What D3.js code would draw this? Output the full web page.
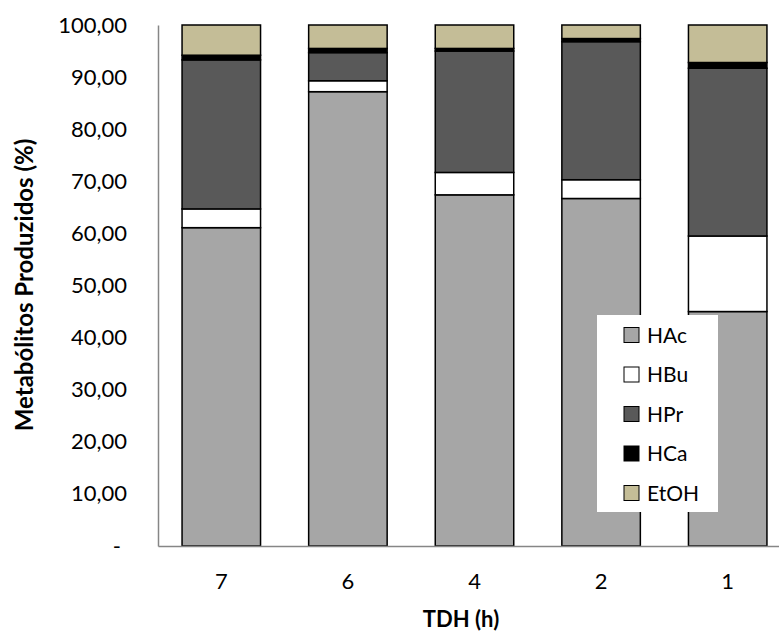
<!DOCTYPE html>
<html>
<head>
<meta charset="utf-8">
<script src="https://cdn.jsdelivr.net/npm/d3@7"></script>
<style>
  body { margin: 0; background: #fff; }
  text { font-family: Lato, "Open Sans", sans-serif; }
</style>
</head>
<body>
<div id="chart"></div>
<script>
var categories = ['7', '6', '4', '2', '1'];
var seriesNames = ['HAc', 'HBu', 'HPr', 'HCa', 'EtOH'];
var seriesColors = ['#a6a6a6', '#ffffff', '#595959', '#000000', '#c4bd97'];

var HAc  = [61.1, 87.2, 67.4, 66.7, 45.0];
var HBu  = [3.6, 2.1, 4.3, 3.6, 14.5];
var HPr  = [28.6, 5.4, 23.3, 26.5, 32.2];
var HCa  = [0.9, 0.8, 0.5, 0.6, 1.1];
var EtOH = [5.8, 4.5, 4.5, 2.6, 7.2];

var yTicks = [0, 10, 20, 30, 40, 50, 60, 70, 80, 90, 100];

var width = 779;
var height = 632;
var margin = { top: 25, right: -12, bottom: 86, left: 158 };

var table = categories.map(function (c, i) {
  return { cat: c, HAc: HAc[i], HBu: HBu[i], HPr: HPr[i], HCa: HCa[i], EtOH: EtOH[i] };
});

var svg = d3.select('#chart')
  .append('svg')
    .attr('width', width)
    .attr('height', height);

var x = d3.scaleBand()
  .domain(categories)
  .range([margin.left, width - margin.right])
  .paddingInner(0.38)
  .paddingOuter(0.19);

var y = d3.scaleLinear()
  .domain([0, 100])
  .range([height - margin.bottom, margin.top]);

var stack = d3.stack().keys(seriesNames)(table);

// bars
svg.append('g')
  .selectAll('g')
  .data(stack)
  .enter()
  .append('g')
    .attr('fill', function (d, i) { return seriesColors[i]; })
  .selectAll('rect')
  .data(function (d) { return d; })
  .enter()
  .append('rect')
    .attr('x', function (d) { return x(d.data.cat); })
    .attr('y', function (d) { return y(d[1]); })
    .attr('width', x.bandwidth())
    .attr('height', function (d) { return y(d[0]) - y(d[1]); })
    .attr('stroke', '#000')
    .attr('stroke-width', 1.5);

// axes
var yAxis = svg.append('g')
  .attr('transform', 'translate(' + margin.left + ',0)')
  .call(d3.axisLeft(y).tickValues(yTicks).tickSize(0).tickPadding(31)
    .tickFormat(function (d) { return d === 0 ? '-' : d3.format('.2f')(d).replace('.', ','); }));
yAxis.select('.domain').attr('stroke', '#868686').attr('stroke-width', 1.5);
yAxis.selectAll('text').attr('font-size', 22).attr('fill', '#000');
yAxis.selectAll('.tick').filter(function (d) { return d === 0; })
  .select('text').attr('x', -37);

var xAxis = svg.append('g')
  .attr('transform', 'translate(0,' + (height - margin.bottom) + ')')
  .call(d3.axisBottom(x).tickSize(0).tickPadding(27));
xAxis.select('.domain').attr('stroke', '#868686').attr('stroke-width', 1.5);
xAxis.selectAll('text').attr('font-size', 22).attr('fill', '#000');

// axis titles
svg.append('text')
  .attr('transform', 'translate(33,285) rotate(-90)')
  .attr('text-anchor', 'middle')
  .attr('font-size', 24)
  .attr('font-weight', 'bold')
  .text('Metabólitos Produzidos (%)');

svg.append('text')
  .attr('x', 461)
  .attr('y', 627)
  .attr('text-anchor', 'middle')
  .attr('font-size', 22)
  .attr('font-weight', 'bold')
  .text('TDH (h)');

// legend
var legend = svg.append('g')
  .attr('transform', 'translate(597,315)');

legend.append('rect')
  .attr('width', 121)
  .attr('height', 197)
  .attr('fill', '#fff');

var items = legend.selectAll('.item')
  .data(seriesNames)
  .enter()
  .append('g')
    .attr('class', 'item')
    .attr('transform', function (d, i) { return 'translate(27,' + (20 + i * 39.5) + ')'; });

items.append('rect')
  .attr('x', 0)
  .attr('y', -7.5)
  .attr('width', 15)
  .attr('height', 15)
  .attr('fill', function (d, i) { return seriesColors[i]; })
  .attr('stroke', '#000')
  .attr('stroke-width', 1);

items.append('text')
  .attr('x', 23)
  .attr('dy', '0.36em')
  .attr('font-size', 21)
  .text(function (d) { return d; });
</script>
</body>
</html>
